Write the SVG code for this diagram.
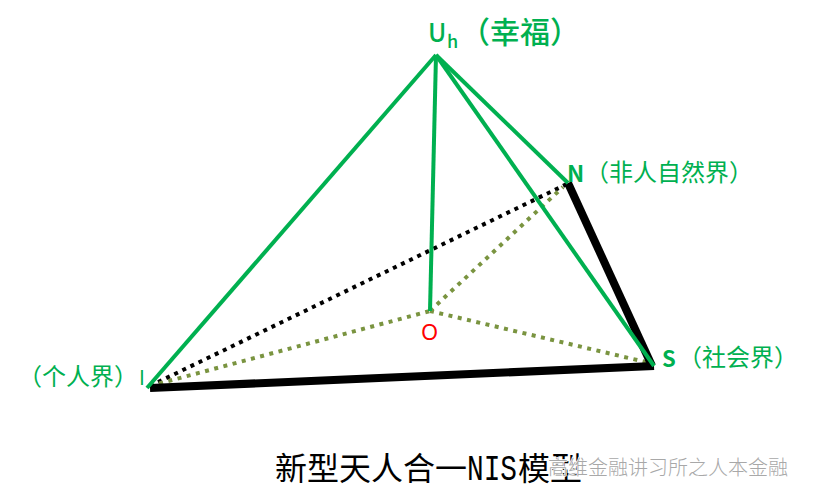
<svg xmlns="http://www.w3.org/2000/svg" width="813" height="504" viewBox="0 0 813 504">
<style>
.g{stroke:#00b050;stroke-width:4;fill:none}
.k{stroke:#000;stroke-width:8;fill:none}
.kd{stroke:#000;stroke-width:4;stroke-dasharray:4 5;fill:none}
.o{stroke:#7a9440;stroke-width:4;stroke-dasharray:4 5.5;fill:none}
text{font-family:"Noto Sans CJK SC","DejaVu Sans",sans-serif}
.l{fill:#00b050;font-size:24px}
.t{fill:#000;font-size:32px}
.m{fill:#000;font-size:36px;font-family:"Liberation Mono",monospace}
.w{fill:#a8a8a8;font-size:20px;font-weight:300;stroke:#fff;stroke-width:1.5px;paint-order:stroke}
</style>
<rect width="813" height="504" fill="#fff"/>
<g id="connectors">
<line class="kd" x1="150" y1="386" x2="567" y2="184"/>
<line class="o" x1="150" y1="386" x2="430" y2="311"/>
<line class="o" x1="430" y1="311" x2="563" y2="187"/>
<line class="o" x1="430" y1="311" x2="654" y2="364"/>
<line class="k" x1="150" y1="388" x2="654" y2="366"/>
<line class="k" x1="568" y1="183" x2="652" y2="366"/>
<line class="g" x1="147" y1="388" x2="436" y2="55"/>
<line class="g" x1="436" y1="55" x2="430" y2="311"/>
<line class="g" x1="436" y1="55" x2="568" y2="183"/>
<line class="g" x1="436" y1="55" x2="654" y2="366"/>
</g>
<g id="node-u"><text class="l" x="428" y="42" style="font-size:25px" font-weight="500">U</text><text class="l" x="447" y="48" style="font-size:18px" font-weight="500">h</text><text class="l" x="460" y="43" style="font-size:30px" font-weight="500">（幸福）</text></g>
<g id="node-n"><text class="l" x="567" y="182" style="font-size:23px" font-weight="700">N</text><text class="l" x="585" y="181">（非人自然界）</text></g>
<g id="node-s"><text class="l" x="662" y="367" style="font-size:22px" font-weight="700">S</text><text class="l" x="678" y="366">（社会界）</text></g>
<g id="node-i"><text class="l" x="18" y="385">（个人界）</text><text class="l" x="139" y="385" style="font-size:20px">I</text></g>
<g id="node-o"><text x="421" y="340" fill="#ff0000" style="font-size:22px;font-family:'Noto Sans','Noto Sans CJK SC',sans-serif">O</text></g>
<g id="title"><text class="t" x="275" y="480">新型天人合一</text><text class="m" x="467" y="480" textLength="50" lengthAdjust="spacingAndGlyphs">NIS</text><text class="t" x="518" y="480">模型</text></g>
<g id="watermark"><text class="w" x="548" y="475" textLength="240">高维金融讲习所之人本金融</text></g>
</svg>
